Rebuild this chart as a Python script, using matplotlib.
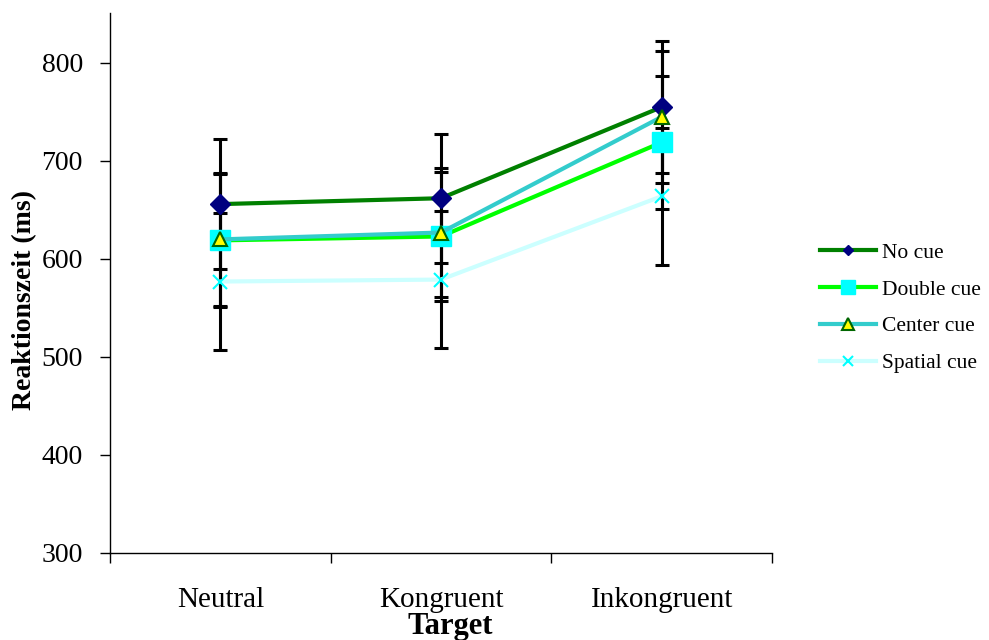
import matplotlib
matplotlib.use("Agg")
import matplotlib.pyplot as plt
from matplotlib.lines import Line2D
import numpy as np

categories = ["Neutral", "Kongruent", "Inkongruent"]
series = ["No cue", "Double cue", "Center cue", "Spatial cue"]
no_cue = [656, 662, 755]
double_cue = [619, 623, 719]
center_cue = [620, 627, 745]
spatial_cue = [577, 579, 664]
no_cue_err = [66, 66, 67]
double_cue_err = [68, 66, 68]
center_cue_err = [68, 66, 67]
spatial_cue_err = [70, 70, 70]
yticks = [300, 400, 500, 600, 700, 800]

plt.rcParams['font.family'] = ['Liberation Serif', 'DejaVu Serif']

W, H = 989, 640
fig = plt.figure(figsize=(W/100, H/100), dpi=100)
ax = fig.add_axes([110/W, 87/H, 662/W, 540/H])

x = np.arange(len(categories)) + 0.5
vals = [no_cue, double_cue, center_cue, spatial_cue]
errs = [no_cue_err, double_cue_err, center_cue_err, spatial_cue_err]
styles = [
    dict(color="#008000", marker="D", mfc="#000080", mec="#000080", mew=1),
    dict(color="#00FF00", marker="s", mfc="#00FFFF", mec="#00FFFF", mew=1),
    dict(color="#33CCCC", marker="^", mfc="#FFFF00", mec="#006600", mew=1.5),
    dict(color="#CCFFFF", marker="x", mfc="#00FFFF", mec="#00FFFF", mew=1.5),
]
plot_ms = [10, 14, 10, 10]
leg_ms = [5.5, 9.5, 8.5, 7]

for v, e in zip(vals, errs):
    ax.errorbar(x, v, yerr=e, fmt="none", ecolor="black", elinewidth=2.2,
                capsize=5, capthick=2.2, zorder=2)

for name, v, st, ms in zip(series, vals, styles, plot_ms):
    ax.plot(x, v, lw=3, label=name, zorder=3, ms=ms, **st)

ax.set_xlim(0, 3)
ax.set_ylim(300, 851)
ax.set_yticks(yticks)
ax.set_xticks([0, 1, 2, 3])
ax.set_xticklabels([])
ax.tick_params(axis="x", which="major", direction="out", length=7, width=1)
ax.tick_params(axis="y", direction="out", length=7.5, width=1, labelsize=20, pad=12)
for s in ["top", "right"]:
    ax.spines[s].set_visible(False)
for s in ["left", "bottom"]:
    ax.spines[s].set_linewidth(1)

trans = ax.get_xaxis_transform()
for xi, c in zip(x, categories):
    ax.text(xi, -(607 - 553) / 540, c, transform=trans, ha="center",
            va="baseline", fontsize=21)

fig.text(450/W, 1 - 634/H, "Target",
         ha="center", va="baseline", fontsize=22, fontweight="bold")
fig.text(25/W, 1 - 300/H, "Reaktionszeit (ms)", rotation=90, ha="center",
         va="center", fontsize=20, fontweight="bold")

handles = [Line2D([], [], lw=3, ms=ms, **st) for st, ms in zip(styles, leg_ms)]
fig.legend(handles=handles, labels=series, loc="center left",
           bbox_to_anchor=(820/W, 1 - 308/H), frameon=False, fontsize=15.5,
           borderpad=0, borderaxespad=0,
           handlelength=2.6, handletextpad=0.3, labelspacing=0.78)

fig.savefig("out.png", dpi=100)
